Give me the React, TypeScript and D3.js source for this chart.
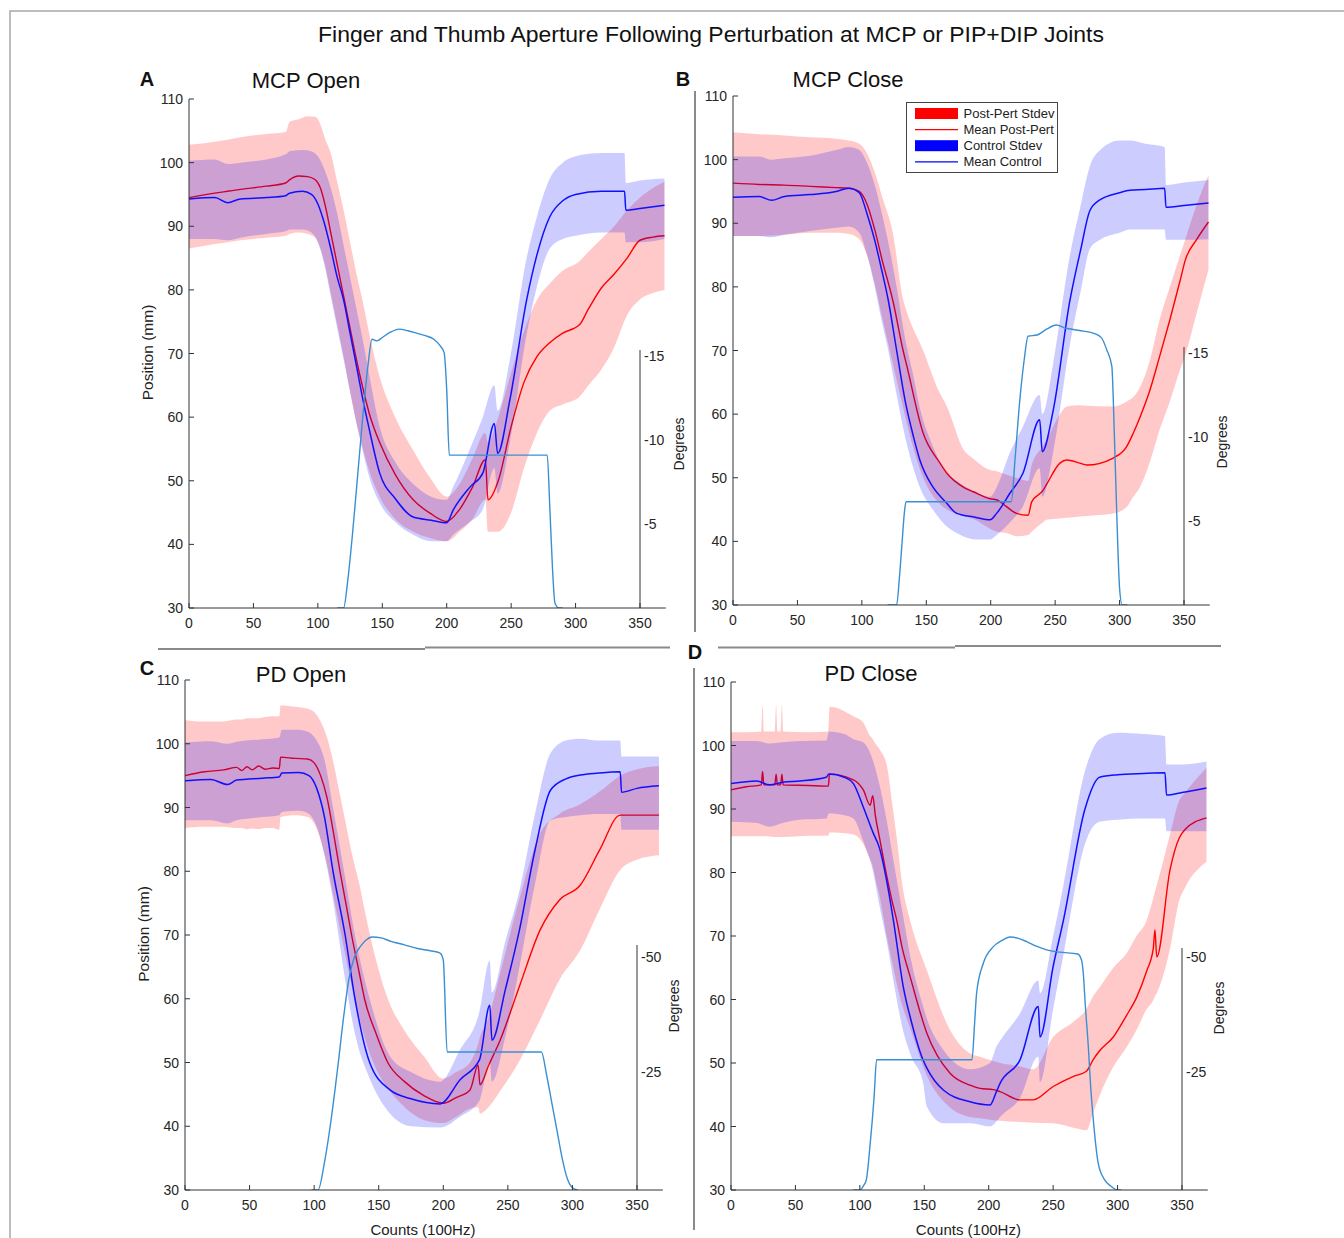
import React from 'react';
import * as d3 from 'd3';

// tick labels
const posTicks = [30, 40, 50, 60, 70, 80, 90, 100, 110];
const countTicks = [0, 50, 100, 150, 200, 250, 300, 350];
const degTicksMcp = [-5, -10, -15];
const degTicksPd = [-25, -50];

// rows: [count, stdev low, mean, stdev high]  (mm)
const mcpOpenPert = [
  [0, 86.5, 94.5, 102.8], [20, 87.2, 95.2, 103.3], [30, 87.5, 95.5, 103.6], [40, 87.8, 95.8, 104],
  [60, 88.2, 96.3, 104.5], [75, 88.5, 96.8, 104.8], [78, 88.8, 97.3, 106.4], [85, 89, 97.9, 106.8],
  [92, 88.8, 97.8, 107.3], [98, 88.2, 97.3, 107.2], [102, 86.5, 96, 106], [106, 83.5, 93, 103.5],
  [110, 79.5, 89, 101.5], [115, 74.5, 84, 97], [120, 69.5, 79, 92.5], [125, 64, 74, 87.5],
  [130, 59, 69, 82.5], [135, 55, 64.5, 78], [140, 51.5, 60.5, 73], [148, 47.5, 56, 66.3],
  [160, 44, 51, 60], [174, 42, 47, 54.8], [187, 41, 44.9, 50.5], [200, 40.5, 43.6, 47.5],
  [210, 42, 45.5, 49.5], [220, 44, 49, 53.5], [230, 47, 53.3, 57.5], [232, 42, 47, 56],
  [240, 42, 50, 60], [250, 45, 58.5, 67], [260, 52, 65.5, 73.5], [270, 57.5, 69.5, 78.4],
  [280, 61, 71.7, 81], [290, 62, 73.2, 83], [303, 63.2, 74.5, 84.5], [310, 65, 77, 86],
  [320, 67.5, 80.3, 88], [330, 71, 82.5, 90], [340, 76, 85, 92.5], [350, 78.5, 87.8, 94.5],
  [360, 79.5, 88.3, 96], [369, 80, 88.5, 97],
];
const mcpOpenCtrl = [
  [0, 88, 94.3, 100.3], [20, 88, 94.5, 100.5], [30, 87.8, 93.7, 99.8], [40, 88.2, 94.3, 100],
  [60, 88.8, 94.5, 100.5], [75, 89.2, 94.8, 101.3], [78, 89.5, 95.2, 101.8], [88, 89.5, 95.5, 102],
  [95, 89, 95, 101.8], [100, 87.5, 93.5, 101], [105, 84, 90.5, 99], [110, 79, 86.5, 96],
  [115, 74, 82, 92], [120, 69, 78.4, 87], [125, 64, 73.2, 82], [130, 59, 68, 77],
  [135, 54.5, 62.7, 72], [140, 50.5, 58, 66.5], [148, 46.5, 51.2, 58.5], [160, 43.5, 47.2, 53],
  [174, 41.5, 44.3, 49.5], [188, 40.5, 43.8, 47.5], [200, 40.5, 43.4, 47], [205, 41.5, 45.4, 49],
  [218, 43.5, 49, 55], [228, 45.5, 51.2, 60], [237, 52, 59, 65], [239.5, 48, 54.3, 61],
  [249, 56, 62.7, 69], [262, 73, 78.4, 85], [270, 80.5, 85.5, 91.5], [280, 86.5, 91.5, 97.5],
  [290, 88, 94, 100], [300, 88.5, 95, 101], [320, 89, 95.5, 101.5], [338, 89, 95.5, 101.5],
  [339, 87.5, 92.5, 96.8], [350, 87.5, 92.8, 97.2], [369, 88, 93.3, 97.5],
];
const mcpClosePert = [
  [0, 88, 96.3, 104.3], [20, 88, 96.1, 104], [40, 88.2, 96, 103.8], [60, 88.5, 95.8, 103.5],
  [80, 88.5, 95.6, 103.3], [90, 88.3, 95.5, 103], [98, 87.5, 95, 102.5], [104, 85, 93, 101],
  [110, 80.5, 89, 98], [116, 75, 84, 94], [124, 68, 77.9, 88.5], [132, 61, 70, 78],
  [135, 58.5, 67.5, 76], [147.6, 50, 57, 70], [160, 46, 52.5, 63.5], [166, 45, 50.7, 61.2],
  [179, 44, 48.5, 54.4], [186.5, 43.5, 47.8, 53], [199.5, 42, 46.7, 51.2], [205, 41.5, 46.5, 51],
  [212, 41.3, 45.5, 50.5], [220, 40.8, 44.4, 50], [229, 41, 44.1, 49.5], [231.8, 41.5, 46.2, 52],
  [240.6, 43, 48, 55], [243.5, 43.4, 49, 56], [253.7, 43.6, 52.3, 60], [259, 43.7, 52.8, 61.2],
  [269, 43.9, 52.3, 61.4], [274.5, 44, 52, 61.3], [295, 44.4, 53.1, 61.2], [305.5, 45.4, 54.9, 62],
  [310.6, 47, 57, 62.7], [316, 48.6, 59.6, 64.3], [323.6, 52.5, 63.8, 68.5], [331, 57.5, 69, 74.8],
  [339, 62, 74.8, 80], [347, 67, 81, 85], [351, 69.3, 84.2, 87.5], [360, 76, 87.5, 93],
  [369, 82.7, 90.2, 97.6],
];
const mcpCloseCtrl = [
  [0, 88, 94.1, 100.5], [20, 88, 94.2, 100.5], [30, 87.8, 93.6, 100], [40, 88.2, 94.2, 100.2],
  [60, 88.8, 94.5, 100.6], [80, 89.3, 95, 101.5], [90, 89.5, 95.5, 102], [98, 88.5, 94.8, 101.5],
  [104, 85, 91.5, 99.5], [110, 80, 87.3, 96], [115, 75, 83, 92], [120.5, 70, 77.9, 87],
  [127, 63, 70, 80], [133.5, 56.5, 62.2, 72], [140, 51.5, 56.5, 66], [145, 48.5, 52.8, 61],
  [155, 45, 48.6, 55], [165, 42.5, 46.2, 51], [173.6, 41.3, 44.4, 49.5], [188, 40.3, 43.8, 47.8],
  [199.5, 40.3, 43.4, 47], [204.6, 41, 44.4, 48.5], [215, 43, 47.6, 54], [225, 45.5, 50.7, 58],
  [238, 51.5, 59.1, 63], [240, 47, 54.1, 60], [248.5, 54, 60.6, 68], [261.5, 71, 77.9, 85],
  [270, 79.5, 86, 93], [277, 86, 92, 99], [285, 87.4, 93.7, 101.5], [300, 88.5, 94.8, 103],
  [308, 89, 95.2, 103], [320, 89, 95.3, 102.5], [335, 89, 95.5, 102], [336, 87.4, 92.5, 96],
  [350, 87.4, 92.8, 96.4], [369, 87.5, 93.2, 96.8],
];
const pdOpenPert = [
  [0, 86.8, 95, 103.7], [15, 87, 95.6, 103.5], [30, 87, 95.9, 103.5], [40, 86.8, 96.3, 103.8],
  [44, 86.8, 95.8, 103.8], [48, 86.6, 96.4, 104], [52, 86.7, 95.9, 104], [57, 86.6, 96.5, 104],
  [62, 86.8, 96, 104.2], [68, 86.8, 96.2, 104.3], [73, 86.5, 96.1, 104.3], [74, 88.5, 97.9, 106],
  [85, 88.8, 97.7, 105.8], [95, 88.5, 97.6, 105.5], [100, 87.5, 97, 105], [105, 85, 95, 103.5],
  [110, 81, 91.5, 101], [115, 76, 86, 97], [120, 71, 80, 92], [125, 66, 74.5, 87],
  [129, 62, 70, 83], [135, 57, 64, 78], [139, 54, 60, 74], [148, 49, 54.5, 66],
  [157, 46, 50, 60], [170, 43, 47, 55], [185, 41, 44.8, 51], [200, 40.5, 43.6, 47.5],
  [210, 41.5, 44.5, 48.5], [220.7, 42.8, 45.7, 50], [227, 43, 49.6, 53], [228.4, 42, 46.5, 54],
  [235, 43, 49.5, 57], [244, 45.5, 53.5, 64], [259.4, 50.4, 62.2, 76], [275, 56.7, 70.8, 86],
  [290, 63, 75.5, 89], [306, 67.6, 77.8, 90.5], [321, 74, 83.3, 92.5], [337, 80.2, 88.8, 95],
  [350, 81.8, 88.8, 96], [367, 82.5, 88.8, 96.5],
];
const pdOpenCtrl = [
  [0, 88, 94.2, 100.2], [20, 88, 94.4, 100.4], [33, 87.5, 93.6, 100], [40, 88, 94.3, 100.3],
  [60, 88.5, 94.6, 100.7], [73, 88.8, 94.8, 101], [75, 89.3, 95.4, 102.2], [88, 89.5, 95.5, 102.2],
  [96, 89, 95, 101.8], [102, 87, 93, 100.5], [108, 82.5, 88.5, 97.5], [114.6, 75.5, 80, 90],
  [124, 63, 70, 79], [131.6, 54.5, 60, 70], [143, 47.5, 50, 60], [158.7, 42, 45.7, 51],
  [175, 40, 44.3, 48.5], [197.5, 39.8, 43.5, 47], [213, 41.5, 47.3, 52], [228, 44, 50.4, 58],
  [236, 50, 59, 66], [237.7, 47, 53.5, 61], [248, 54, 61.4, 69], [259, 65, 70.8, 77],
  [271, 78, 83.3, 89], [283, 88, 92.7, 98.5], [295, 88.5, 94.5, 100.5], [306, 88.8, 95.1, 100.8],
  [320, 89, 95.4, 100.5], [337, 89, 95.6, 100.5], [338, 86.5, 92.4, 98], [350, 86.5, 93, 98],
  [367, 86.5, 93.4, 98],
];
const pdClosePert = [
  [0, 85.7, 93, 102.1], [12, 85.7, 93.5, 102.1], [23.5, 85.7, 93.8, 102.2], [24.5, 85.7, 95.9, 106.4],
  [25.5, 85.7, 93.8, 102.2], [34, 85.6, 93.8, 102.2], [35, 85.6, 95.5, 106.4], [36, 85.6, 93.8, 102.2],
  [38.5, 85.6, 93.8, 102.2], [39.5, 85.6, 95.5, 106.4], [40.5, 85.6, 93.8, 102.2], [60, 85.8, 93.7, 102.1],
  [75.5, 85.8, 93.6, 102.2], [76.5, 86.3, 95.5, 106.1], [95, 86, 94.6, 104.6], [102.7, 84.5, 93, 103.6],
  [108, 82, 90.6, 101.5], [110, 81, 92.1, 101], [112, 79, 89, 100.3], [115.6, 76, 85.1, 99.3],
  [120.8, 70, 79.5, 97], [125, 66, 75.5, 91], [128.6, 62.5, 72.5, 85.5], [133, 59, 68, 78],
  [139, 55.5, 63.6, 72.5], [152, 48, 54.7, 64.6], [170, 43, 48.4, 55.2], [185.5, 41.5, 46.5, 51.5],
  [193.2, 41.3, 46, 51], [203.6, 41, 45.8, 50.3], [208.8, 40.9, 45.5, 50], [224, 40.7, 44.2, 49.5],
  [234.6, 40.6, 44.2, 49], [250, 40.5, 46.3, 54.1], [265.8, 39.8, 47.9, 56.5], [275.8, 39.4, 48.7, 58.5],
  [281, 42.1, 50.5, 60.5], [286.4, 45, 52, 62], [296.7, 49.4, 54.1, 65], [307, 52.5, 57.5, 67.3],
  [314.7, 55.2, 60.3, 70], [322.6, 58.5, 64.5, 72.5], [327.7, 59.9, 68, 76], [329, 60.5, 71, 77],
  [330.4, 61, 66.7, 78], [340.7, 68, 80.4, 86], [348, 75.7, 85.5, 91.4], [352, 77.5, 86.7, 92.5],
  [369, 81.7, 88.6, 96.5],
];
const pdCloseCtrl = [
  [0, 88, 94, 100.7], [20, 87.8, 94.4, 100.7], [30, 87.2, 93.8, 100.3], [40, 87.8, 94.2, 100.5],
  [53.5, 88.3, 94.4, 100.7], [74, 88.5, 95, 100.8], [76, 89.3, 95.5, 102.2], [88, 89, 95, 101.8],
  [95, 88.5, 94, 101], [102.5, 85, 90.4, 100.5], [110.4, 80, 86.2, 97.5], [115, 75, 84, 94],
  [121, 69, 78.5, 88], [126, 63, 72.5, 82], [133.7, 55, 62, 73], [140, 51, 56.5, 66],
  [149, 47, 50.5, 59], [152, 43.1, 49.2, 57], [165, 40.5, 45.7, 52], [185.5, 40.5, 43.9, 49],
  [201, 40, 43.4, 50], [206, 40.8, 45.5, 52.6], [208.8, 41.5, 46.8, 53.5], [224.3, 44.5, 50.5, 57.8],
  [238.5, 51, 58.9, 63], [239.8, 47, 54.1, 61], [250, 58.5, 65.2, 70], [258, 67, 72.5, 78],
  [274.7, 84.5, 90, 96], [286, 88, 95, 101], [300, 88.3, 95.4, 102], [320, 88.5, 95.6, 101.8],
  [336.8, 88.5, 95.7, 101.5], [338, 86.5, 92.2, 97], [350, 86.5, 92.6, 97], [369, 86.5, 93.3, 97.5],
];

// perturbation angle: [count, degrees]
const mcpOpenAngle = [
  [115, 0], [120, 0], [123, -1.5], [127, -4.5], [131, -8], [135, -11.5], [139, -14.5], [142, -16],
  [146, -15.9], [150, -16.1], [156, -16.4], [163, -16.6], [170, -16.5], [177, -16.35], [184, -16.2],
  [190, -16], [195, -15.6], [198, -15.2], [200, -13], [202, -9.1], [278, -9.1], [280, -6],
  [282, -2.5], [284, -0.3], [287, 0], [290, 0],
];
const mcpCloseAngle = [
  [120, 0], [127, 0], [129, -1.5], [131, -3.5], [133, -5.5], [134.3, -6.15], [216, -6.15],
  [219, -8.8], [222.7, -12.3], [226, -14.6], [229, -16], [236, -16.07], [243, -16.4], [251, -16.67],
  [257, -16.5], [264, -16.4], [272, -16.3], [280, -16.17], [286, -15.9], [290, -15.2], [294, -14.2],
  [296, -10], [298, -5], [300, -1], [302, 0], [306, 0],
];
const pdOpenAngle = [
  [98, 0], [103, 0], [108, -6], [113, -15], [118, -26], [123, -38], [127, -46], [131, -50.5],
  [136, -53], [140, -54.3], [145, -55], [152, -54.8], [160, -54], [170, -53.3], [180, -52.5],
  [190, -52], [197.5, -51.5], [200, -50], [203, -30], [276, -30], [280, -25], [284, -19],
  [288, -13], [292, -7], [296, -2.5], [300, -0.5], [304, 0],
];
const pdCloseAngle = [
  [95, 0], [100, 0], [103, -1], [105, -2.2], [108, -10], [111, -20], [113, -28.3], [187, -28.3],
  [189, -36], [190.6, -42.8], [195.8, -49.3], [203.6, -52.9], [210, -54.2], [216.5, -55],
  [223, -54.7], [229.4, -54], [237, -53], [245, -52.2], [255, -51.7], [269, -51.3], [272, -50],
  [273.4, -47.1], [275, -40], [277.3, -31.2], [279, -23], [281.2, -15.2], [285, -5.8], [290, -2.2],
  [295, -0.8], [300, 0], [303, 0],
];

const FONT = '"Liberation Sans", Arial, Helvetica, sans-serif';
const AXIS = '#333';

const panels = [
  {
    letter: 'A', title: 'MCP Open', pert: mcpOpenPert, ctrl: mcpOpenCtrl, angle: mcpOpenAngle,
    degTicks: degTicksMcp, x0: 189, x350: 640, yTop: 99, yBot: 608, degPx: 16.8, degTop: 350,
    letterPos: [147, 79], titlePos: [306, 80], degLabelPos: [679, 444], degDy: 0,
    yLabel: true, xLabel: false, legend: false,
  },
  {
    letter: 'B', title: 'MCP Close', pert: mcpClosePert, ctrl: mcpCloseCtrl, angle: mcpCloseAngle,
    degTicks: degTicksMcp, x0: 733, x350: 1184, yTop: 96, yBot: 605, degPx: 16.8, degTop: 347,
    letterPos: [683, 79], titlePos: [848, 79], degLabelPos: [1222, 442], degDy: 0,
    yLabel: false, xLabel: false, legend: true,
  },
  {
    letter: 'C', title: 'PD Open', pert: pdOpenPert, ctrl: pdOpenCtrl, angle: pdOpenAngle,
    degTicks: degTicksPd, x0: 185, x350: 637, yTop: 680, yBot: 1190, degPx: 4.6, degTop: 945,
    letterPos: [147, 668], titlePos: [301, 674], degLabelPos: [674, 1006], degDy: -3,
    yLabel: true, xLabel: true, legend: false,
  },
  {
    letter: 'D', title: 'PD Close', pert: pdClosePert, ctrl: pdCloseCtrl, angle: pdCloseAngle,
    degTicks: degTicksPd, x0: 731, x350: 1182, yTop: 682, yBot: 1190, degPx: 4.6, degTop: 948,
    letterPos: [695, 652], titlePos: [871, 673], degLabelPos: [1219, 1008], degDy: -3,
    yLabel: false, xLabel: true, legend: false,
  },
];

function Legend() {
  const x = 906.5, y = 102.5;
  const items = [
    { label: 'Post-Pert Stdev', color: '#ff0000', patch: true },
    { label: 'Mean Post-Pert', color: '#ff0000', patch: false },
    { label: 'Control Stdev', color: '#0000ff', patch: true },
    { label: 'Mean Control', color: '#0000ff', patch: false },
  ];
  return (
    <g>
      <rect x={x} y={y} width={151} height={70} fill="#fff" stroke="#444" strokeWidth={1} />
      {items.map((it, i) => {
        const cy = y + 11 + i * 16.1;
        return (
          <g key={it.label}>
            {it.patch ? (
              <rect x={x + 8.5} y={cy - 5.5} width={43} height={11} fill={it.color} />
            ) : (
              <line x1={x + 8.5} x2={x + 51.5} y1={cy} y2={cy} stroke={it.color} strokeWidth={1.2} />
            )}
            <text x={x + 57} y={cy} dominantBaseline="central" fontSize={13} fill="#222">{it.label}</text>
          </g>
        );
      })}
    </g>
  );
}

function Panel({ p }: { p: any }) {
  const x = d3.scaleLinear().domain([0, 350]).range([p.x0, p.x350]);
  const y = d3.scaleLinear().domain([30, 110]).range([p.yBot, p.yTop]);
  const deg = d3.scaleLinear().domain([0, -10]).range([p.yBot, p.yBot - 10 * p.degPx]);
  const xEnd = x(370);

  const band = d3.area<number[]>()
    .x((d) => x(d[0])).y0((d) => y(d[1])).y1((d) => y(d[3]))
    .curve(d3.curveMonotoneX);
  const mean = d3.line<number[]>()
    .x((d) => x(d[0])).y((d) => y(d[2]))
    .curve(d3.curveMonotoneX);
  const angle = d3.line<number[]>()
    .x((d) => x(d[0])).y((d) => deg(d[1]))
    .curve(d3.curveMonotoneX);

  const clipId = `clip-${p.letter}`;
  return (
    <g fontFamily={FONT}>
      <defs>
        <clipPath id={clipId}>
          <rect x={p.x0} y={p.yTop - 20} width={xEnd - p.x0} height={p.yBot - p.yTop + 20} />
        </clipPath>
      </defs>
      <g clipPath={`url(#${clipId})`}>
        <path d={band(p.pert) || ''} fill="#ff0000" fillOpacity={0.21} />
        <path d={mean(p.pert) || ''} fill="none" stroke="#ff0000" strokeWidth={1.4} />
        <path d={band(p.ctrl) || ''} fill="#0000ff" fillOpacity={0.2} />
        <path d={mean(p.ctrl) || ''} fill="none" stroke="#1010ff" strokeWidth={1.5} />
        <path d={angle(p.angle) || ''} fill="none" stroke="#3a8fd2" strokeWidth={1.4} />
      </g>

      {/* left axis */}
      <line x1={p.x0} x2={p.x0} y1={p.yTop} y2={p.yBot} stroke={AXIS} strokeWidth={1} />
      {posTicks.map((t) => (
        <g key={`y${t}`}>
          <line x1={p.x0} x2={p.x0 + 5} y1={y(t)} y2={y(t)} stroke={AXIS} strokeWidth={1} />
          <text x={p.x0 - 6} y={y(t)} textAnchor="end" dominantBaseline="central" fontSize={14} fill="#262626">{t}</text>
        </g>
      ))}
      {/* bottom axis */}
      <line x1={p.x0} x2={xEnd} y1={p.yBot} y2={p.yBot} stroke={AXIS} strokeWidth={1} />
      {countTicks.map((t) => (
        <g key={`x${t}`}>
          <line x1={x(t)} x2={x(t)} y1={p.yBot} y2={p.yBot - 5} stroke={AXIS} strokeWidth={1} />
          <text x={x(t)} y={p.yBot + 15} textAnchor="middle" dominantBaseline="central" fontSize={14} fill="#262626">{t}</text>
        </g>
      ))}
      {/* degrees axis */}
      <line x1={p.x350} x2={p.x350} y1={p.degTop} y2={p.yBot} stroke={AXIS} strokeWidth={1} />
      {p.degTicks.map((t: number) => (
        <text key={`d${t}`} x={p.x350 + 4} y={deg(t) + p.degDy} dominantBaseline="central" fontSize={14} fill="#262626">{t}</text>
      ))}
      <text transform={`translate(${p.degLabelPos[0]},${p.degLabelPos[1]}) rotate(-90)`}
        textAnchor="middle" dominantBaseline="central" fontSize={14} fill="#222">Degrees</text>

      {p.yLabel && (
        <text transform={`translate(${p.x0 - 42},${(p.yTop + p.yBot) / 2 - 1}) rotate(-90)`}
          textAnchor="middle" dominantBaseline="central" fontSize={15.5} fill="#222">Position (mm)</text>
      )}
      {p.xLabel && (
        <text x={(p.x0 + xEnd) / 2 - 1} y={p.yBot + 39} textAnchor="middle" dominantBaseline="central" fontSize={15} fill="#222">Counts (100Hz)</text>
      )}

      <text x={p.titlePos[0]} y={p.titlePos[1]} textAnchor="middle" dominantBaseline="central" fontSize={22} fill="#111">{p.title}</text>
      <text x={p.letterPos[0]} y={p.letterPos[1]} textAnchor="middle" dominantBaseline="central" fontSize={20} fontWeight="bold" fill="#111">{p.letter}</text>

      {p.legend && <Legend />}
    </g>
  );
}

export default function App() {
  const W = 1344, H = 1238;
  return (
    <svg width={W} height={H} viewBox={`0 0 ${W} ${H}`}
      style={{ position: 'absolute', left: 0, top: 0, display: 'block', background: '#fff' }}>
      <rect x={0} y={0} width={W} height={H} fill="#fff" />
      {/* frame */}
      <path d={`M10,${H} L10,11 L${W},11`} fill="none" stroke="#a8a8a8" strokeWidth={1.5} />
      <text x={711} y={34} textAnchor="middle" dominantBaseline="central" fontFamily={FONT}
        fontSize={22} fill="#111" textLength={786} lengthAdjust="spacingAndGlyphs">
        Finger and Thumb Aperture Following Perturbation at MCP or PIP+DIP Joints
      </text>

      {/* separators */}
      <line x1={158} x2={425} y1={649} y2={649} stroke="#8a8a8a" strokeWidth={2} />
      <line x1={425} x2={670} y1={647.5} y2={647.5} stroke="#8a8a8a" strokeWidth={2} />
      <line x1={718} x2={955} y1={647.5} y2={647.5} stroke="#8a8a8a" strokeWidth={2} />
      <line x1={955} x2={1221} y1={646} y2={646} stroke="#8a8a8a" strokeWidth={2} />
      <line x1={695} x2={695} y1={91} y2={632} stroke="#8a8a8a" strokeWidth={2} />
      <line x1={694} x2={694} y1={668} y2={1230} stroke="#8a8a8a" strokeWidth={2} />

      {panels.map((p) => (
        <Panel key={p.letter} p={p} />
      ))}
    </svg>
  );
}
